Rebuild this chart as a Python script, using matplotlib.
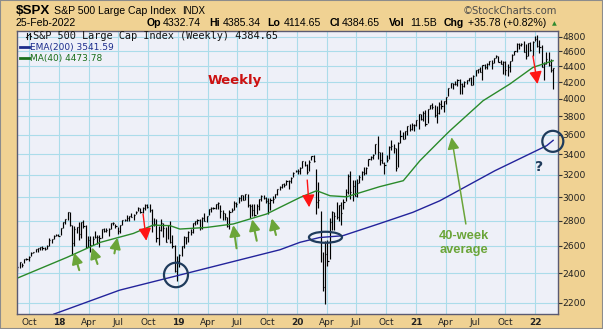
import matplotlib
matplotlib.use("Agg")
import matplotlib.pyplot as plt
import matplotlib.dates as mdates
from matplotlib.patches import Ellipse, Rectangle
from matplotlib.transforms import ScaledTranslation
from matplotlib.ticker import FixedLocator, NullLocator, NullFormatter
from matplotlib.lines import Line2D
import pandas as pd

# ---------------- data (weekly bars, Fridays) ----------------
first_week = "2017-08-25"
last_week = "2022-02-25"

close_2017 = [2443, 2477, 2461, 2500, 2502, 2519, 2549, 2553, 2575, 2581, 2588, 2582, 2579, 2602, 2642, 2652, 2676, 2683, 2674]
high_2017 = [2454, 2480, 2475, 2500, 2508, 2520, 2553, 2557, 2576, 2582, 2588, 2598, 2590, 2605, 2657, 2653, 2680, 2695, 2692]
low_2017 = [2417, 2437, 2446, 2474, 2496, 2488, 2520, 2544, 2551, 2555, 2566, 2568, 2567, 2577, 2598, 2624, 2650, 2675, 2673]

close_2018 = [2743, 2786, 2810, 2873, 2762, 2620, 2732, 2747, 2691, 2786, 2752, 2588, 2641, 2604, 2656, 2670, 2670, 2663,
              2728, 2713, 2721, 2735, 2779, 2780, 2755, 2718, 2760, 2801, 2802, 2819, 2840, 2833, 2850, 2875, 2902, 2872,
              2905, 2930, 2914, 2886, 2767, 2768, 2659, 2723, 2781, 2736, 2633, 2760, 2633, 2600, 2417, 2486]
high_2018 = [2743, 2787, 2810, 2873, 2870, 2763, 2755, 2747, 2789, 2786, 2802, 2761, 2676, 2672, 2674, 2718, 2683, 2682,
             2733, 2743, 2742, 2736, 2779, 2790, 2775, 2747, 2764, 2801, 2816, 2848, 2841, 2863, 2854, 2877, 2917, 2901,
             2911, 2941, 2940, 2940, 2894, 2817, 2816, 2756, 2815, 2782, 2746, 2760, 2800, 2685, 2607, 2520]
low_2018 = [2682, 2737, 2768, 2808, 2759, 2533, 2596, 2700, 2647, 2658, 2741, 2585, 2594, 2553, 2605, 2660, 2612, 2594,
            2663, 2707, 2707, 2676, 2731, 2765, 2742, 2692, 2698, 2760, 2793, 2795, 2795, 2828, 2802, 2853, 2878, 2864,
            2864, 2886, 2903, 2875, 2710, 2755, 2628, 2603, 2718, 2670, 2631, 2649, 2621, 2583, 2409, 2347]

close_2019 = [2532, 2596, 2671, 2665, 2707, 2708, 2776, 2793, 2804, 2743, 2822, 2800, 2834, 2893, 2907, 2905, 2940, 2946,
              2881, 2860, 2826, 2752, 2873, 2887, 2950, 2942, 2990, 3014, 2977, 3026, 2932, 2919, 2889, 2847, 2926, 2979,
              3007, 2992, 2962, 2952, 2970, 2986, 3023, 3067, 3093, 3120, 3110, 3141, 3146, 3169, 3221, 3240]
high_2019 = [2539, 2598, 2675, 2670, 2718, 2731, 2776, 2794, 2813, 2816, 2830, 2860, 2836, 2894, 2910, 2916, 2940, 2954,
             2932, 2892, 2863, 2830, 2885, 2905, 2964, 2956, 2996, 3014, 3018, 3028, 3027, 2939, 2943, 2939, 2940, 2985,
             3021, 3022, 3002, 2993, 2993, 3008, 3027, 3067, 3097, 3120, 3127, 3154, 3150, 3182, 3226, 3248]
low_2019 = [2443, 2525, 2583, 2613, 2631, 2682, 2703, 2764, 2775, 2723, 2731, 2800, 2786, 2848, 2875, 2900, 2898, 2900,
            2825, 2801, 2805, 2750, 2728, 2874, 2887, 2912, 2952, 2966, 2976, 2973, 2915, 2822, 2840, 2834, 2856, 2891,
            2964, 2985, 2946, 2856, 2892, 2952, 2992, 3021, 3066, 3081, 3091, 3111, 3070, 3124, 3183, 3227]

close_2020 = [3235, 3265, 3330, 3295, 3226, 3328, 3380, 3338, 2954, 2972, 2711, 2305, 2541, 2489, 2790, 2875, 2837, 2831,
              2930, 2864, 2955, 3044, 3194, 3041, 3098, 3009, 3130, 3185, 3225, 3216, 3271, 3351, 3373, 3397, 3508, 3427,
              3341, 3319, 3298, 3348, 3477, 3484, 3465, 3270, 3510, 3585, 3558, 3638, 3699, 3663, 3709, 3703, 3756]
high_2020 = [3259, 3275, 3330, 3337, 3308, 3348, 3385, 3393, 3259, 3137, 2882, 2553, 2637, 2641, 2819, 2880, 2871, 2955,
             2934, 2955, 2981, 3068, 3212, 3233, 3155, 3154, 3166, 3198, 3238, 3279, 3272, 3352, 3387, 3399, 3509, 3588,
             3425, 3428, 3320, 3398, 3482, 3550, 3502, 3465, 3529, 3646, 3628, 3644, 3699, 3712, 3726, 3711, 3760]
low_2020 = [3212, 3214, 3265, 3281, 3214, 3235, 3343, 3328, 2855, 2901, 2479, 2280, 2192, 2448, 2505, 2726, 2727, 2816,
            2798, 2766, 2894, 2969, 3025, 2984, 2966, 3007, 3002, 3127, 3155, 3200, 3209, 3284, 3344, 3355, 3407, 3350,
            3293, 3314, 3210, 3324, 3354, 3441, 3418, 3234, 3279, 3512, 3551, 3557, 3594, 3645, 3648, 3636, 3696]

close_2021 = [3825, 3768, 3841, 3714, 3887, 3934, 3907, 3811, 3842, 3943, 3913, 3975, 4020, 4129, 4185, 4180, 4181, 4233,
              4174, 4156, 4204, 4230, 4247, 4166, 4281, 4352, 4370, 4327, 4412, 4395, 4437, 4468, 4442, 4509, 4535, 4459,
              4433, 4455, 4357, 4391, 4471, 4545, 4605, 4697, 4683, 4698, 4595, 4538, 4712, 4621, 4726, 4766]
high_2021 = [3826, 3823, 3860, 3870, 3887, 3934, 3950, 3928, 3915, 3960, 3983, 3978, 4021, 4130, 4192, 4194, 4218, 4238,
             4236, 4187, 4218, 4234, 4249, 4262, 4287, 4356, 4372, 4393, 4415, 4430, 4440, 4470, 4480, 4513, 4546, 4536,
             4486, 4465, 4476, 4429, 4475, 4559, 4608, 4718, 4714, 4717, 4744, 4705, 4713, 4731, 4740, 4808]
low_2021 = [3663, 3755, 3754, 3694, 3725, 3885, 3885, 3789, 3723, 3824, 3883, 3853, 3944, 4035, 4125, 4119, 4169, 4148,
            4057, 4062, 4141, 4178, 4218, 4164, 4165, 4279, 4321, 4325, 4234, 4368, 4368, 4417, 4367, 4450, 4513, 4457,
            4428, 4306, 4288, 4279, 4323, 4474, 4546, 4595, 4630, 4672, 4585, 4495, 4541, 4600, 4531, 4734]

close_2022 = [4677, 4663, 4398, 4432, 4501, 4419, 4349, 4385]
high_2022 = [4819, 4749, 4691, 4453, 4595, 4590, 4490, 4385]
low_2022 = [4663, 4582, 4395, 4222, 4431, 4401, 4327, 4115]

# 200-week EMA
ema_dates = ["2017-12-15", "2018-07-05", "2018-12-27", "2019-11-09", "2020-01-10", "2020-03-10", "2020-05-20",
             "2020-09-10", "2020-12-21", "2021-03-14", "2021-07-05", "2021-08-30", "2022-02-05", "2022-02-25"]
ema_values = [2128, 2283, 2381, 2570, 2627, 2664, 2678, 2775, 2868, 2967, 3147, 3240, 3487, 3542]

# 40-week MA
ma_dates = ["2017-08-25", "2018-01-24", "2018-05-06", "2018-08-16", "2018-10-16", "2018-12-07", "2019-01-06",
            "2019-03-29", "2019-06-19", "2019-09-29", "2019-11-09", "2020-01-10", "2020-03-01", "2020-04-11",
            "2020-06-01", "2020-09-10", "2020-11-22", "2021-01-12", "2021-03-14", "2021-04-14", "2021-07-25",
            "2021-10-15", "2021-12-25", "2022-02-25"]
ma_values = [2365, 2513, 2626, 2696, 2763, 2758, 2731, 2744, 2772, 2854, 2910, 2996, 3056, 3011, 3002, 3092, 3147,
             3337, 3538, 3643, 3979, 4178, 4387, 4474]

y_ticks = [2200, 2400, 2600, 2800, 3000, 3200, 3400, 3600, 3800, 4000, 4200, 4400, 4600, 4800]

closes = close_2017 + close_2018 + close_2019 + close_2020 + close_2021 + close_2022
highs = high_2017 + high_2018 + high_2019 + high_2020 + high_2021 + high_2022
lows = low_2017 + low_2018 + low_2019 + low_2020 + low_2021 + low_2022
weeks = pd.date_range(first_week, last_week, freq="W-FRI")
assert len(weeks) == len(closes) == len(highs) == len(lows)

# ---------------- styling ----------------
TAN = "#F0D293"
PLOT_BG = "#EEF0F8"
GRID = "#ABDCEA"
NAVY = "#1F3B5C"
GREEN = "#6BA539"
RED = "#FF1414"

W, H = 603, 329
fig = plt.figure(figsize=(W / 100, H / 100), dpi=100, facecolor=TAN)


def px(x, y):
    return x / W, 1 - y / H


left, right, top, bottom = 16.7, 557.7, 31.0, 313.5
ax = fig.add_axes([left / W, 1 - bottom / H, (right - left) / W, (bottom - top) / H])
ax.set_facecolor(PLOT_BG)

x = mdates.date2num(weeks.to_pydatetime())
ax.vlines(x, lows, highs, color="black", lw=0.85)
ax.hlines(closes, x, x + 3.5, color="black", lw=0.85)

ema_x = mdates.date2num(pd.to_datetime(ema_dates).to_pydatetime())
ma_x = mdates.date2num(pd.to_datetime(ma_dates).to_pydatetime())
ax.plot(ema_x, ema_values, color="#23239B", lw=1.0)
ax.plot(ma_x, ma_values, color="#2A8A2A", lw=1.0)

ax.set_yscale("log")
ax.set_ylim(2132, 4881)
ax.set_xlim(mdates.date2num(pd.Timestamp("2017-08-23")), mdates.date2num(pd.Timestamp("2022-03-11")))

ax.yaxis.set_major_locator(FixedLocator(y_ticks))
ax.yaxis.set_minor_locator(NullLocator())
ax.yaxis.set_minor_formatter(NullFormatter())
ax.set_yticklabels([str(v) for v in y_ticks])
ax.yaxis.tick_right()
ax.tick_params(axis="y", direction="out", length=3, width=0.8, color="#333333", pad=0.5,
               labelsize=6.6, labelcolor="#222222")

qticks = pd.date_range("2017-10-01", "2022-01-01", freq="QS-JAN")
ax.xaxis.set_major_locator(FixedLocator(mdates.date2num(qticks.to_pydatetime())))
ax.xaxis.set_minor_locator(NullLocator())
labels = [d.strftime("%y") if d.month == 1 else d.strftime("%b") for d in qticks]
ax.set_xticklabels(labels)
ax.tick_params(axis="x", length=0, pad=3, labelsize=6.5, labelcolor="#222222")
for d, t in zip(qticks, ax.get_xticklabels()):
    if d.month == 1:
        t.set_fontweight("bold")

ax.grid(True, color=GRID, lw=0.8)
ax.set_axisbelow(True)
for s in ax.spines.values():
    s.set_color("#5A5A72")
    s.set_linewidth(1.0)


def dnum(s):
    return mdates.date2num(pd.Timestamp(s))


# ---------------- annotations ----------------
ax.text(dnum("2019-06-24"), 4219, "Weekly", color="#CC1111", fontsize=9.5, fontweight="bold",
        ha="center", va="center", family="DejaVu Sans")

green_arrows = [
    (("2018-02-15", 2548), ("2018-03-03", 2421)),
    (("2018-04-11", 2588), ("2018-04-28", 2465)),
    (("2018-06-28", 2663), ("2018-06-19", 2543)),
    (("2019-06-19", 2763), ("2019-06-29", 2581)),
    (("2019-08-16", 2810), ("2019-08-30", 2639)),
    (("2019-10-15", 2818), ("2019-10-28", 2684)),
]
for (tip_d, tip_v), (tail_d, tail_v) in green_arrows:
    ax.annotate("", xy=(dnum(tip_d), tip_v), xytext=(dnum(tail_d), tail_v),
                arrowprops=dict(arrowstyle="-|>,head_length=0.65,head_width=0.32", color=GREEN, lw=1.5,
                                shrinkA=0, shrinkB=0))

ax.annotate("", xy=(dnum("2021-04-19"), 3574), xytext=(dnum("2021-06-02"), 2772),
            arrowprops=dict(arrowstyle="-|>,head_length=0.7,head_width=0.35", color=GREEN, lw=1.1,
                            shrinkA=0, shrinkB=0))
ax.text(dnum("2021-05-27"), 2621, "40-week\naverage", color=GREEN, fontsize=9.3, fontweight="bold",
        ha="center", va="center", family="Liberation Sans", linespacing=1.15)

red_arrows = [
    (("2018-09-25", 2639), ("2018-09-15", 2854)),
    (("2020-02-07", 2911), ("2020-02-01", 3153)),
    (("2022-01-08", 4178), ("2021-12-25", 4536)),
]
for (tip_d, tip_v), (tail_d, tail_v) in red_arrows:
    ax.annotate("", xy=(dnum(tip_d), tip_v), xytext=(dnum(tail_d), tail_v),
                arrowprops=dict(arrowstyle="-|>,head_length=0.75,head_width=0.38", color=RED, lw=1.0,
                                shrinkA=0, shrinkB=0))

ax.text(dnum("2022-01-13"), 3279, "?", color=NAVY, fontsize=10, fontweight="bold",
        ha="center", va="center", family="DejaVu Sans")

# circles / ellipse (size in inches, centred on data points)
rings = [(("2018-12-25", 2387), 0.24, 0.245),
         (("2020-03-28", 2666), 0.33, 0.11),
         (("2022-02-24", 3532), 0.21, 0.21)]
for (d, v), w_in, h_in in rings:
    e = Ellipse((0, 0), w_in, h_in, fill=False, edgecolor=NAVY, lw=1.6,
                transform=fig.dpi_scale_trans + ScaledTranslation(dnum(d), v, ax.transData))
    fig.add_artist(e)

# ---------------- legend inside plot ----------------
fig.text(*px(33, 36), "S&P 500 Large Cap Index (Weekly) 4384.65", fontsize=7.4, family="DejaVu Sans Mono",
         va="center", ha="left", color="#111111")
icon = [((26.5, 26.5), (33, 39)), ((25.5, 26.5), (37, 37)), ((26.5, 27.5), (35, 35)),
        ((29.5, 29.5), (33, 38.5)), ((28.5, 29.5), (34, 34)), ((29.5, 30.5), (36, 36))]
for (xs, ys) in icon:
    fig.add_artist(Line2D([xs[0] / W, xs[1] / W], [1 - ys[0] / H, 1 - ys[1] / H], color="#111111", lw=0.8))
fig.add_artist(Line2D([20 / W, 29 / W], [1 - 47.3 / H, 1 - 47.3 / H], color="#1C2C8C", lw=2))
fig.text(*px(30, 47.3), "EMA(200) 3541.59", fontsize=6.5, color="#1C2C8C", va="center", ha="left")
fig.add_artist(Line2D([20 / W, 29 / W], [1 - 58.3 / H, 1 - 58.3 / H], color="#1A6E1A", lw=2))
fig.text(*px(30, 58.3), "MA(40) 4473.78", fontsize=6.5, color="#1A6E1A", va="center", ha="left")

# ---------------- header ----------------
HF = "Liberation Sans"
fig.text(*px(16, 10.5), "$SPX", fontsize=9.6, fontweight="bold", family=HF, va="center", ha="left")
fig.text(*px(54, 11), "S&P 500 Large Cap Index", fontsize=7.6, family=HF, va="center", ha="left")
fig.text(*px(182, 11), "INDX", fontsize=7.0, family=HF, va="center", ha="left")
fig.text(*px(16, 23.3), "25-Feb-2022", fontsize=7.6, family=HF, va="center", ha="left")
pieces = [(146.7, "Op", True), (162.7, "4332.74", False), (209.3, "Hi", True), (222.7, "4385.34", False),
          (267.3, "Lo", True), (283.3, "4114.65", False), (329.3, "Cl", True), (342, "4384.65", False),
          (389.3, "Vol", True), (410, "11.5B", False), (444, "Chg", True), (467.7, "+35.78 (+0.82%)", False)]
for xp, s, b in pieces:
    fig.text(*px(xp, 23.3), s, fontsize=7.6, fontweight="bold" if b else "normal",
             family=HF, va="center", ha="left")
fig.text(*px(554, 23.5), "\u25B2", fontsize=4.5, color="#2E8B2E", va="center", ha="center", family="DejaVu Sans")
fig.text(*px(557, 10.7), "\u00A9StockCharts.com", fontsize=7.2, color="#4D4D4D", va="center", ha="right",
         family="DejaVu Sans")

fig.add_artist(Rectangle((0, 0), 1, 1, transform=fig.transFigure, fill=False, edgecolor="#8C8C8C", lw=1.5))

fig.savefig("out.png", dpi=100, facecolor=TAN)
